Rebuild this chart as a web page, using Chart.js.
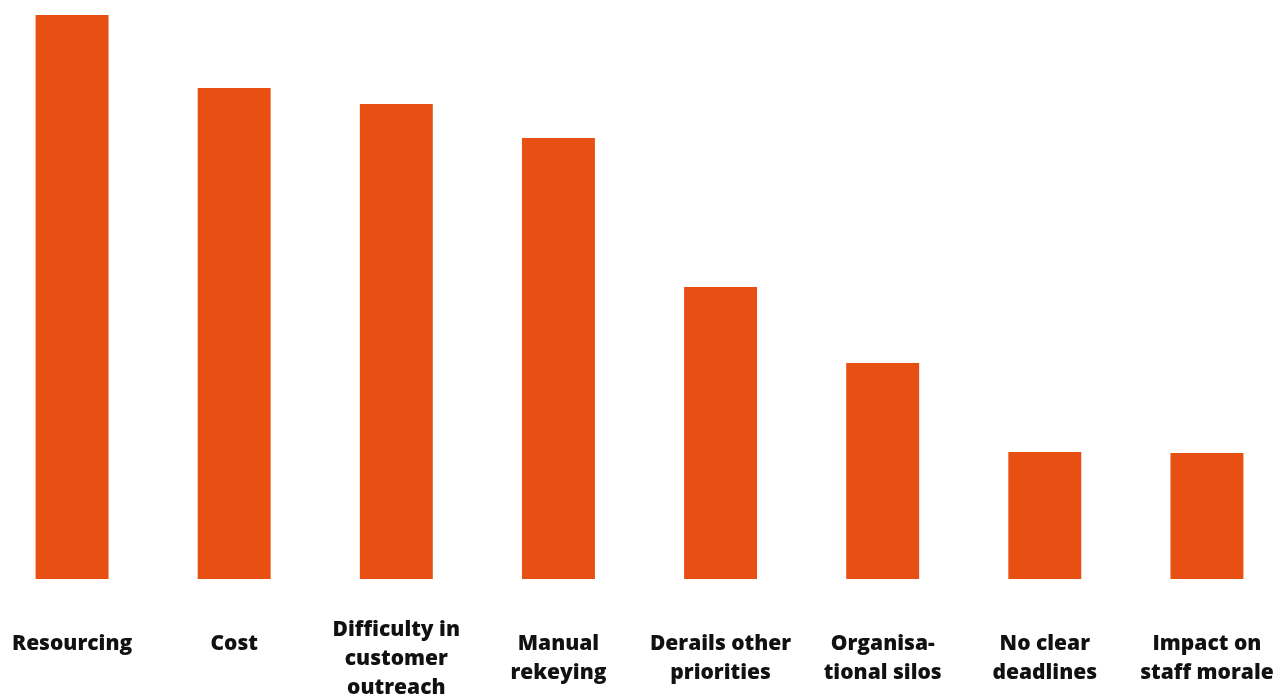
<!DOCTYPE html>
<html>
<head>
<meta charset="utf-8">
<script src="https://cdn.jsdelivr.net/npm/chart.js@4/dist/chart.umd.min.js"></script>
<style>
  html, body { margin: 0; padding: 0; background: #ffffff; overflow: hidden; }
  #wrap { position: absolute; left: -9.5px; top: 0; width: 1297px; height: 696px; }
</style>
</head>
<body>
<div id="wrap"><canvas id="chart"></canvas></div>
<script>
// Barriers, share of respondents (%)
const categories = [
  ['Resourcing'],
  ['Cost'],
  ['Difficulty in', 'customer', 'outreach'],
  ['Manual', 'rekeying'],
  ['Derails other', 'priorities'],
  ['Organisa-', 'tional silos'],
  ['No clear', 'deadlines'],
  ['Impact on', 'staff morale']
];
const shares = [56.4, 49.1, 47.5, 44.1, 29.2, 21.6, 12.7, 12.6];

const BAR_COLOR = '#E84F12';
const LABEL_FONT = '800 21px "Open Sans", Lato, sans-serif';

// Category names drawn under each bar, centred on its category
const categoryLabels = {
  id: 'categoryLabels',
  afterDraw(chart) {
    const ctx = chart.ctx;
    const xs = chart.scales.x;
    ctx.save();
    ctx.font = LABEL_FONT;
    ctx.fillStyle = '#111111';
    ctx.textAlign = 'center';
    ctx.textBaseline = 'alphabetic';
    const lineH = 29;
    categories.forEach((lines, i) => {
      const x = xs.getPixelForValue(i);
      let y = lines.length > 2 ? 636 : 650;
      lines.forEach(l => { ctx.fillText(l, x, y); y += lineH; });
    });
    ctx.restore();
  }
};

new Chart(document.getElementById('chart'), {
  type: 'bar',
  data: {
    labels: categories.map(c => c.join(' ')),
    datasets: [{
      data: shares,
      backgroundColor: BAR_COLOR,
      borderWidth: 0,
      categoryPercentage: 1,
      barPercentage: 0.45
    }]
  },
  options: {
    responsive: true,
    maintainAspectRatio: false,
    animation: false,
    layout: { padding: { top: 15, bottom: 117, left: 0, right: 0 } },
    plugins: { legend: { display: false }, tooltip: { enabled: false } },
    scales: {
      x: { display: false, offset: true },
      y: { display: false, min: 0, max: 56.4 }
    }
  },
  plugins: [categoryLabels]
});
</script>
</body>
</html>
